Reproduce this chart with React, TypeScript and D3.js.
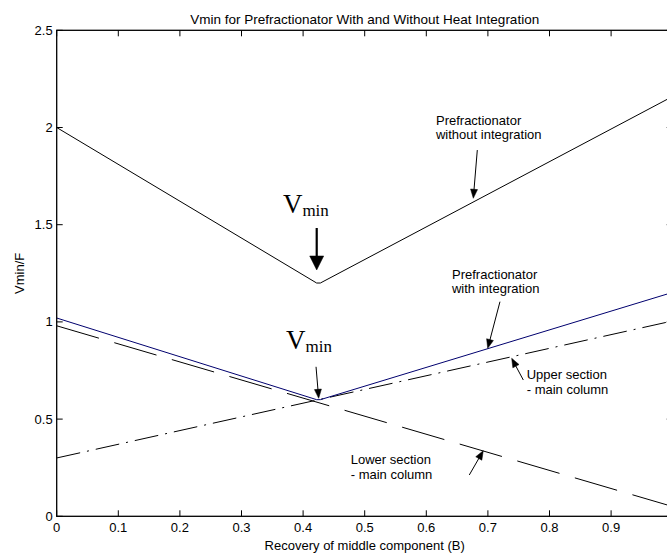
import React from "react";
import * as d3 from "d3";

const W = 667;
const H = 556;

// axis ticks
const X_TICKS = [0, 0.1, 0.2, 0.3, 0.4, 0.5, 0.6, 0.7, 0.8, 0.9, 1];
const X_TICK_LABELS = ["0", "0.1", "0.2", "0.3", "0.4", "0.5", "0.6", "0.7", "0.8", "0.9", ""];
const Y_TICKS = [0, 0.5, 1, 1.5, 2, 2.5];
const Y_TICK_LABELS = ["0", "0.5", "1", "1.5", "2", "2.5"];

// series
const withoutX = [0, 0.422, 0.428, 1];
const withoutY = [2.0, 1.2, 1.2, 2.16];
const withX = [0, 0.422, 0.428, 1];
const withY = [1.02, 0.6, 0.6, 1.152];
const upperX = [0, 1];
const upperY = [0.3, 1.005];
const lowerX = [0, 1];
const lowerY = [0.98, 0.05];

// annotations (data space)
const ARROWS = [
  { x1: 0.6828, y1: 1.884, x2: 0.6763, y2: 1.636, thick: false },
  { x1: 0.7196, y1: 1.104, x2: 0.6997, y2: 0.864, thick: false },
  { x1: 0.7575, y1: 0.701, x2: 0.7386, y2: 0.813, thick: false },
  { x1: 0.6698, y1: 0.2125, x2: 0.6925, y2: 0.3375, thick: false },
  { x1: 0.421, y1: 0.769, x2: 0.4253, y2: 0.607, thick: false },
  { x1: 0.4221, y1: 1.483, x2: 0.4221, y2: 1.267, thick: true },
];
const LABELS = [
  { x: 0.6157, y: 2.013, lines: ["Prefractionator", "without integration"] },
  { x: 0.6417, y: 1.221, lines: ["Prefractionator", "with integration"] },
  { x: 0.7630, y: 0.706, lines: ["Upper section", "- main column"] },
  { x: 0.4773, y: 0.269, lines: ["Lower section", "- main column"] },
];
const VMIN = [
  { x: 0.3672, y: 1.56 },
  { x: 0.3722, y: 0.862 },
];

const TITLE = "Vmin for Prefractionator With and Without Heat Integration";
const X_LABEL = "Recovery of middle component (B)";
const Y_LABEL = "Vmin/F";

const PL = 56.7;
const PR = 672.7;
const PT = 30.3;
const PB = 516.3;

const x = d3.scaleLinear().domain([0, 1]).range([PL, PR]);
const y = d3.scaleLinear().domain([0, 2.5]).range([PB, PT]);

const FONT = "'Liberation Sans', Arial, sans-serif";
const SERIF = "'Liberation Serif', 'Times New Roman', serif";

function linePath(xs: number[], ys: number[]) {
  const pts = xs.map((v, i) => [v, ys[i]] as [number, number]);
  return d3
    .line<[number, number]>()
    .x((d) => x(d[0]))
    .y((d) => y(d[1]))(pts) as string;
}

function Arrow({ x1, y1, x2, y2, thick }: any) {
  const ax = x(x1), ay = y(y1), bx = x(x2), by = y(y2);
  const dx = bx - ax, dy = by - ay;
  const len = Math.hypot(dx, dy);
  const ux = dx / len, uy = dy / len;
  const hl = thick ? 14 : 9;
  const hw = thick ? 7 : 3.5;
  const baseX = bx - ux * hl, baseY = by - uy * hl;
  const px = -uy, py = ux;
  const pts = [
    [bx, by],
    [baseX + px * hw, baseY + py * hw],
    [baseX - px * hw, baseY - py * hw],
  ]
    .map((p) => p.join(","))
    .join(" ");
  return (
    <g>
      <line x1={ax} y1={ay} x2={baseX + ux * 1} y2={baseY + uy * 1} stroke="#000" strokeWidth={thick ? 2.2 : 1} />
      <polygon points={pts} fill="#000" stroke="#000" strokeWidth={0.5} />
    </g>
  );
}

export default function App() {
  const tickLen = 6;
  return (
    <svg
      width={W}
      height={H}
      style={{ position: "absolute", left: 0, top: 0, background: "#fff" }}
    >
      <rect x={0} y={0} width={W} height={H} fill="#fff" />
      {/* series */}
      <path d={linePath(lowerX, lowerY)} fill="none" stroke="#000" strokeWidth={1} strokeDasharray="44,16" />
      <path d={linePath(upperX, upperY)} fill="none" stroke="#000" strokeWidth={1} strokeDasharray="24,7,2,7" />
      <path d={linePath(withX, withY)} fill="none" stroke="#00006e" strokeWidth={1} />
      <path d={linePath(withoutX, withoutY)} fill="none" stroke="#000" strokeWidth={1} />

      {/* axes box */}
      <rect x={PL} y={PT} width={PR - PL} height={PB - PT} fill="none" stroke="#000" strokeWidth={1.3} />
      {X_TICKS.map((t, i) => (
        <g key={"xt" + i}>
          <line x1={x(t)} x2={x(t)} y1={PB} y2={PB - tickLen} stroke="#000" strokeWidth={1} />
          <line x1={x(t)} x2={x(t)} y1={PT} y2={PT + tickLen} stroke="#000" strokeWidth={1} />
          {X_TICK_LABELS[i] ? (
            <text x={x(t)} y={532} textAnchor="middle" fontFamily={FONT} fontSize={13}>
              {X_TICK_LABELS[i]}
            </text>
          ) : null}
        </g>
      ))}
      {Y_TICKS.map((t, i) => (
        <g key={"yt" + i}>
          <line x1={PL} x2={PL + tickLen} y1={y(t)} y2={y(t)} stroke="#000" strokeWidth={1} />
          <line x1={PR} x2={PR - tickLen} y1={y(t)} y2={y(t)} stroke="#000" strokeWidth={1} />
          <text x={PL - 4} y={y(t) + 4.5} textAnchor="end" fontFamily={FONT} fontSize={13}>
            {Y_TICK_LABELS[i]}
          </text>
        </g>
      ))}

      {/* titles */}
      <text x={(PL + PR) / 2} y={24} textAnchor="middle" fontFamily={FONT} fontSize={13.5}>
        {TITLE}
      </text>
      <text x={(PL + PR) / 2} y={550} textAnchor="middle" fontFamily={FONT} fontSize={13}>
        {X_LABEL}
      </text>
      <text
        transform={`translate(24,${(PT + PB) / 2}) rotate(-90)`}
        textAnchor="middle"
        fontFamily={FONT}
        fontSize={13}
      >
        {Y_LABEL}
      </text>

      {/* annotations */}
      {ARROWS.map((a, i) => (
        <Arrow key={"a" + i} {...a} />
      ))}
      {LABELS.map((l, i) => (
        <text key={"l" + i} x={x(l.x)} y={y(l.y)} fontFamily={FONT} fontSize={13}>
          {l.lines.map((s, j) => (
            <tspan key={j} x={x(l.x)} dy={j === 0 ? 0 : 14.5}>
              {s}
            </tspan>
          ))}
        </text>
      ))}
      {VMIN.map((v, i) => (
        <text key={"v" + i} x={x(v.x)} y={y(v.y)} fontFamily={SERIF} fontSize={27}>
          V
          <tspan fontSize={17} dy={3}>
            min
          </tspan>
        </text>
      ))}
    </svg>
  );
}
